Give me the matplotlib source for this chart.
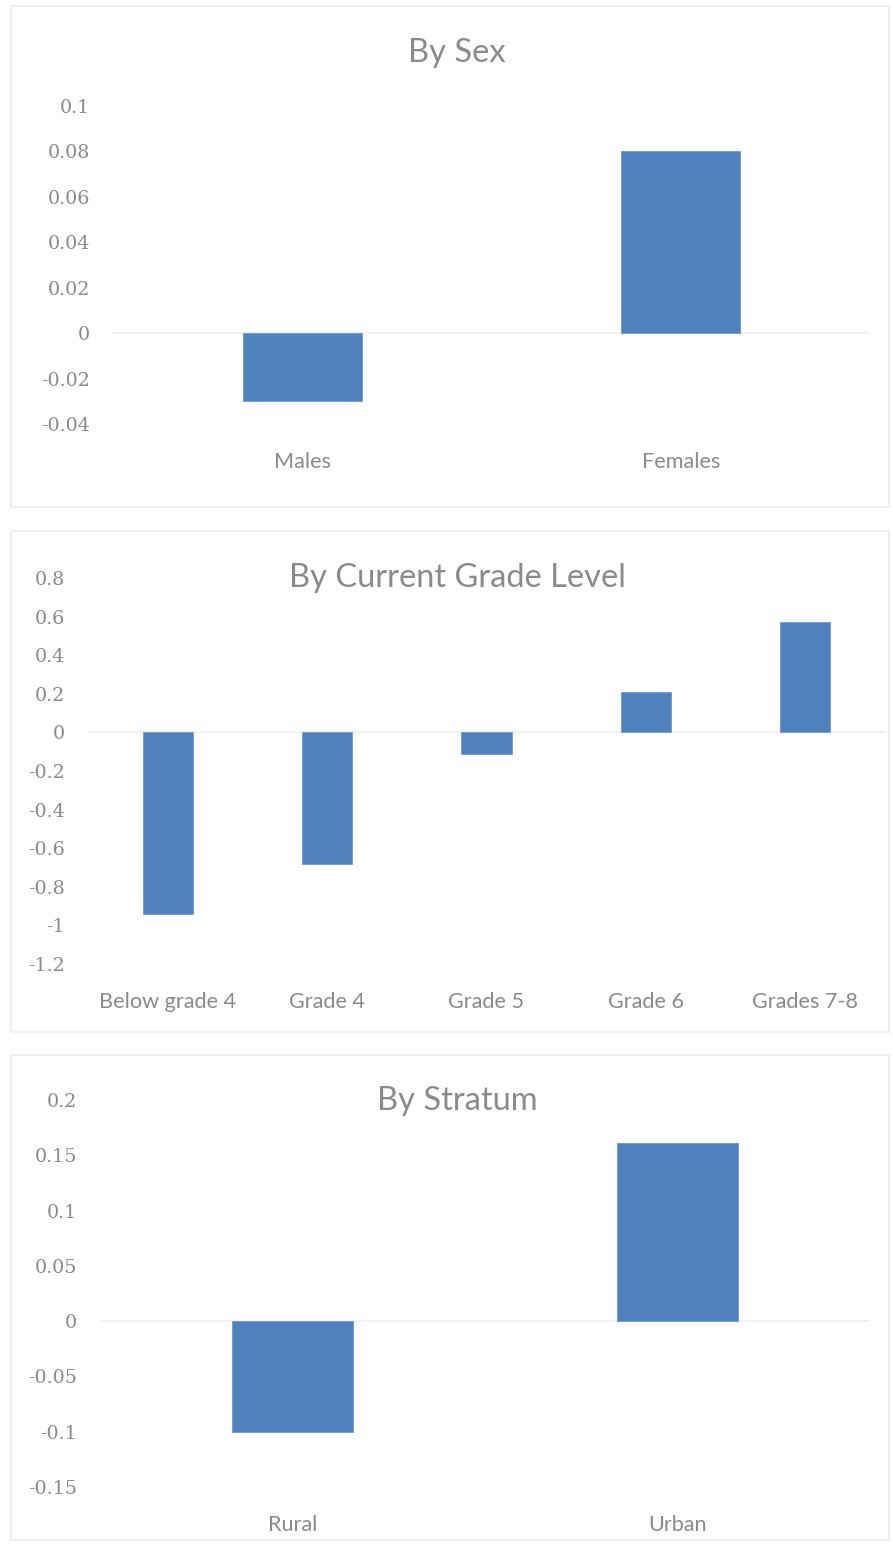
import numpy as np
import matplotlib.pyplot as plt
from matplotlib.patches import Rectangle
from matplotlib.ticker import FixedLocator, FuncFormatter

plt.rcParams['font.family'] = ['Lato', 'DejaVu Sans']

sex_labels = ['Males', 'Females']
sex_values = [-0.03, 0.08]

grade_labels = ['Below grade 4', 'Grade 4', 'Grade 5', 'Grade 6', 'Grades 7-8']
grade_values = [-0.94, -0.68, -0.11, 0.21, 0.57]

stratum_labels = ['Rural', 'Urban']
stratum_values = [-0.10, 0.161]

W, H = 893, 1549
BAR = '#4f81bd'
TXT = '#8a8a8a'

fig = plt.figure(figsize=(W / 100, H / 100), dpi=100)


def fmt(v, pos):
    return f'{round(v, 4) + 0.0:g}'


def panel(box, axbox, title, title_y, labels, values, ylim, step):
    # box / axbox given in pixels: (left, top, right, bottom)
    l, t, r, b = box
    fig.patches.append(Rectangle((l / W, 1 - b / H), (r - l) / W, (b - t) / H,
                                 transform=fig.transFigure, fill=False,
                                 edgecolor='#ececec', linewidth=1.2))
    l, t, r, b = axbox
    ax = fig.add_axes([l / W, 1 - b / H, (r - l) / W, (b - t) / H])
    x = np.arange(len(labels))
    ax.bar(x, values, width=0.315, color=BAR, edgecolor='#6f9bd1', linewidth=0.6)
    ax.axhline(0, color='#efefef', linewidth=1.2, zorder=0)
    ax.set_xlim(-0.5, len(labels) - 0.5)
    ax.set_ylim(*ylim)
    ax.yaxis.set_major_locator(FixedLocator(np.arange(ylim[0], ylim[1] + step / 2, step)))
    ax.yaxis.set_major_formatter(FuncFormatter(fmt))
    ax.set_xticks(x)
    ax.set_xticklabels(labels)
    ax.tick_params(length=0, colors=TXT)
    ax.tick_params(axis='x', pad=20, labelsize=15.6)
    ax.tick_params(axis='y', pad=16.5, labelsize=13.8)
    for lab in ax.get_yticklabels():
        lab.set_family(['DejaVu Serif'])
    for s in ax.spines.values():
        s.set_visible(False)
    fig.text(457 / W, 1 - title_y / H, title, ha='center', va='center',
             fontsize=23.5, color=TXT)
    return ax


panel((11, 6, 889, 507), (113, 106, 870, 424), 'By Sex', 53,
      sex_labels, sex_values, (-0.04, 0.1), 0.02)
panel((11, 531, 889, 1032), (88, 578, 885, 964), 'By Current Grade Level', 578,
      grade_labels, grade_values, (-1.2, 0.8), 0.2)
panel((11, 1055, 889, 1540), (100, 1100, 870, 1487), 'By Stratum', 1101,
      stratum_labels, stratum_values, (-0.15, 0.2), 0.05)

fig.savefig('out.png', dpi=100, facecolor='white')
